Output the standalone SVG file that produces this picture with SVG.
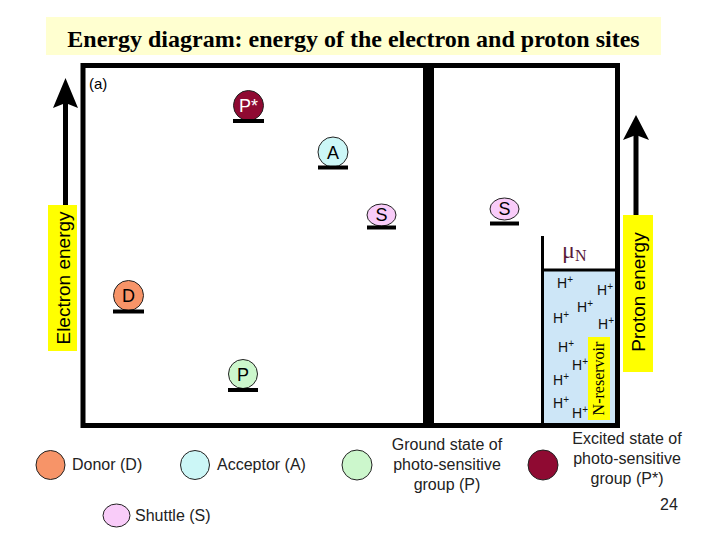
<svg xmlns="http://www.w3.org/2000/svg" width="720" height="540" viewBox="0 0 720 540">
<defs>
<style>
.sans{font-family:"Liberation Sans",Arial,sans-serif}
.serif{font-family:"Liberation Serif","Times New Roman",serif}
.lvl{stroke:#000;stroke-width:4}
.node{stroke:#222;stroke-width:1}
.nlab{font-family:"Liberation Sans",Arial,sans-serif;font-size:18px;text-anchor:middle}
.hp{font-family:"Liberation Sans",Arial,sans-serif;font-size:14px;fill:#111}
.leg{font-family:"Liberation Sans",Arial,sans-serif;font-size:16px;fill:#222}
.ylab{fill:#FFFF00}
</style>
</defs>
<rect width="720" height="540" fill="#fff"/>
<g id="title">
<rect x="46" y="17" width="615" height="38" fill="#FFFFD0"/>
<text x="353.5" y="47" class="serif" font-size="24" font-weight="bold" text-anchor="middle">Energy diagram: energy of the electron and proton sites</text>
</g>
<g id="frame">
<rect x="543" y="270" width="74" height="155" fill="#CDE6F7"/>
<rect x="83" y="65.5" width="534.5" height="360" fill="none" stroke="#000" stroke-width="5"/>
<rect x="423" y="65" width="11" height="361" fill="#000"/>
<line x1="542.5" y1="236" x2="542.5" y2="426" stroke="#000" stroke-width="3"/>
<line x1="541" y1="270" x2="618" y2="270" stroke="#000" stroke-width="3"/>
<text x="89" y="89" class="sans" font-size="15">(a)</text>
</g>
<g id="electron-axis">
<line x1="65.5" y1="100" x2="65.5" y2="205" stroke="#000" stroke-width="5"/>
<polygon points="65.5,78 78,108 65.5,103 53,108" fill="#000"/>
<rect x="48" y="205" width="29" height="146" class="ylab"/>
<text transform="translate(69.5,278) rotate(-90)" class="sans" font-size="19" text-anchor="middle">Electron energy</text>
</g>
<g id="proton-axis">
<line x1="636" y1="135" x2="636" y2="215" stroke="#000" stroke-width="5"/>
<polygon points="636,115 649,140 636,135 623,140" fill="#000"/>
<rect x="623" y="215" width="30" height="157" class="ylab"/>
<text transform="translate(644.5,292) rotate(-90)" class="sans" font-size="19" text-anchor="middle">Proton energy</text>
</g>
<g id="node-Pstar">
<circle cx="248.5" cy="105.5" r="15" fill="#8F0A32" class="node"/>
<line x1="233" y1="121" x2="264" y2="121" class="lvl"/>
<text x="248.5" y="112" class="nlab" fill="#fff">P*</text>
</g>
<g id="node-A">
<circle cx="333" cy="152" r="15" fill="#CCF7F7" class="node"/>
<line x1="318" y1="167.5" x2="348" y2="167.5" class="lvl"/>
<text x="333" y="158.5" class="nlab">A</text>
</g>
<g id="node-S1">
<ellipse cx="381.5" cy="215" rx="14.5" ry="11" fill="#F9CCF9" class="node"/>
<line x1="367" y1="227.5" x2="396" y2="227.5" class="lvl"/>
<text x="381.5" y="221" class="nlab" font-size="17">S</text>
</g>
<g id="node-S2">
<ellipse cx="504.5" cy="209" rx="14.5" ry="11" fill="#F9CCF9" class="node"/>
<line x1="490" y1="223.5" x2="519" y2="223.5" class="lvl"/>
<text x="504.5" y="215" class="nlab" font-size="17">S</text>
</g>
<g id="node-D">
<circle cx="128.5" cy="295.5" r="15" fill="#F79468" class="node"/>
<line x1="113" y1="311.5" x2="144" y2="311.5" class="lvl"/>
<text x="128.5" y="302" class="nlab">D</text>
</g>
<g id="node-P">
<circle cx="243" cy="374" r="14.5" fill="#CCF7CC" class="node"/>
<line x1="228" y1="390" x2="258" y2="390" class="lvl"/>
<text x="243" y="380.5" class="nlab">P</text>
</g>
<g id="reservoir">
<text x="562" y="258" class="serif" font-size="24" fill="#5A1A3A">μ<tspan font-size="16" dy="3">N</tspan></text>
<text x="557" y="288" class="hp">H<tspan font-size="10" dy="-5">+</tspan></text>
<text x="597" y="295" class="hp">H<tspan font-size="10" dy="-5">+</tspan></text>
<text x="577" y="312" class="hp">H<tspan font-size="10" dy="-5">+</tspan></text>
<text x="553" y="323" class="hp">H<tspan font-size="10" dy="-5">+</tspan></text>
<text x="598" y="329" class="hp">H<tspan font-size="10" dy="-5">+</tspan></text>
<text x="558" y="352" class="hp">H<tspan font-size="10" dy="-5">+</tspan></text>
<text x="572" y="370" class="hp">H<tspan font-size="10" dy="-5">+</tspan></text>
<text x="553" y="385" class="hp">H<tspan font-size="10" dy="-5">+</tspan></text>
<text x="553" y="408" class="hp">H<tspan font-size="10" dy="-5">+</tspan></text>
<text x="572" y="418" class="hp">H<tspan font-size="10" dy="-5">+</tspan></text>
<rect x="588" y="337" width="22" height="83" class="ylab"/>
<text transform="translate(604,378.5) rotate(-90)" class="serif" font-size="16" text-anchor="middle">N-reservoir</text>
</g>
<g id="legend">
<circle cx="50.5" cy="465" r="14.5" fill="#F79468" class="node"/>
<text x="72" y="470" class="leg">Donor (D)</text>
<circle cx="195" cy="465" r="14.5" fill="#CCF7F7" class="node"/>
<text x="217" y="470" class="leg">Acceptor (A)</text>
<ellipse cx="116.5" cy="515.5" rx="13.5" ry="11.5" fill="#F9CCF9" class="node"/>
<text x="135" y="521" class="leg">Shuttle (S)</text>
<circle cx="357" cy="465" r="15" fill="#CCF7CC" class="node"/>
<text x="447" y="450" class="leg" text-anchor="middle">Ground state of</text>
<text x="447" y="470" class="leg" text-anchor="middle">photo-sensitive</text>
<text x="447" y="490" class="leg" text-anchor="middle">group (P)</text>
<circle cx="543" cy="465" r="15" fill="#8F0A32" class="node"/>
<text x="627" y="444" class="leg" text-anchor="middle">Excited state of</text>
<text x="627" y="464" class="leg" text-anchor="middle">photo-sensitive</text>
<text x="627" y="484" class="leg" text-anchor="middle">group (P*)</text>
<text x="669" y="510" class="leg" font-size="14" text-anchor="middle">24</text>
</g>
</svg>
